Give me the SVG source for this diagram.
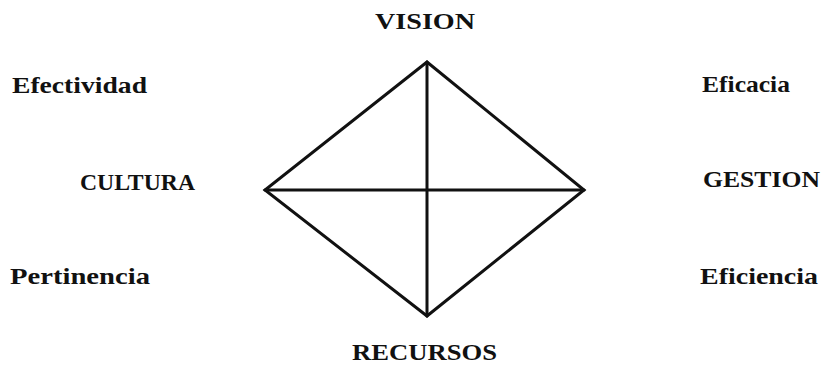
<svg xmlns="http://www.w3.org/2000/svg" width="828" height="365" viewBox="0 0 828 365">
<style>
text{font-family:"Liberation Serif","DejaVu Serif",serif;font-weight:bold;font-size:23px;fill:#111;}
.ln{stroke:#111;stroke-width:3;fill:none;stroke-linejoin:miter;stroke-linecap:round;}
</style>
<rect width="828" height="365" fill="#fff"/>
<g id="connectors">
<polygon class="ln" points="427,62 265,190 427,316 584,190"/>
<line class="ln" x1="427" y1="62" x2="427" y2="316"/>
<line class="ln" x1="265" y1="190" x2="584" y2="190"/>
</g>
<g id="vision"><text x="375" y="29" textLength="100" lengthAdjust="spacingAndGlyphs">VISION</text></g>
<g id="cultura"><text x="80" y="190" textLength="115" lengthAdjust="spacingAndGlyphs">CULTURA</text></g>
<g id="gestion"><text x="703" y="187" textLength="117" lengthAdjust="spacingAndGlyphs">GESTION</text></g>
<g id="recursos"><text x="352" y="360" textLength="145" lengthAdjust="spacingAndGlyphs">RECURSOS</text></g>
<g id="efectividad"><text x="12" y="93" textLength="135" lengthAdjust="spacingAndGlyphs">Efectividad</text></g>
<g id="pertinencia"><text x="10" y="284" textLength="140" lengthAdjust="spacingAndGlyphs">Pertinencia</text></g>
<g id="eficacia"><text x="702" y="92" textLength="88" lengthAdjust="spacingAndGlyphs">Eficacia</text></g>
<g id="eficiencia"><text x="700" y="284" textLength="118" lengthAdjust="spacingAndGlyphs">Eficiencia</text></g>
</svg>
